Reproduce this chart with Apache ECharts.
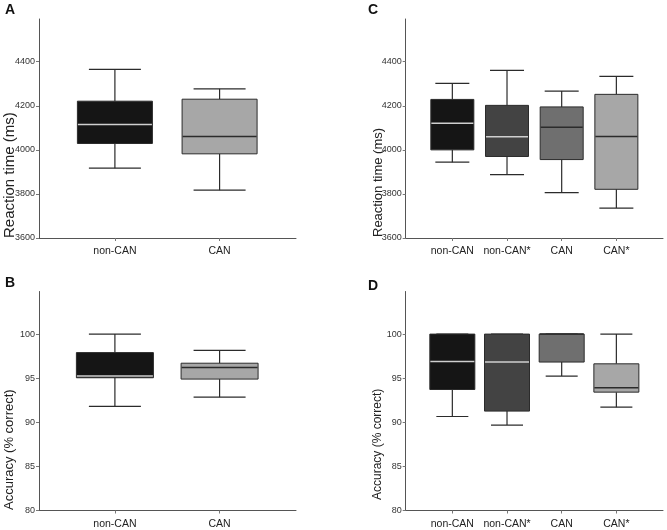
<!DOCTYPE html>
<html><head><meta charset="utf-8">
<script src="https://cdn.jsdelivr.net/npm/echarts@6/dist/echarts.min.js"></script>
<style>html,body{margin:0;padding:0;background:#fff}#c{width:667px;height:530px}</style>
</head><body><div id="c"></div>
<script>
// categories
const catsTwo = ['non-CAN', 'CAN'];
const catsFour = ['non-CAN', 'non-CAN*', 'CAN', 'CAN*'];
// five-number summaries per category: [min, Q1, median, Q3, max]
const rtTwo = [[3917, 4029, 4115, 4221, 4365], [3817, 3982, 4061, 4230, 4277]];
const accTwo = [[91.8, 95.05, 95.25, 97.9, 100], [92.85, 94.9, 96.2, 96.7, 98.15]];
const rtFour = [[3944, 4000, 4121, 4229, 4302], [3888, 3970, 4059, 4202, 4361], [3806, 3956, 4103, 4195, 4267], [3736, 3821, 4061, 4252, 4334]];
const accFour = [[90.66, 93.72, 96.89, 100, 100], [89.68, 91.27, 96.83, 100, 100], [95.24, 96.83, 100, 100, 100], [91.72, 93.42, 93.91, 96.63, 100]];
// tick labels
const rtTicks = [3600, 3800, 4000, 4200, 4400];
const accTicks = [80, 85, 90, 95, 100];

// styles
const FONT = 'Liberation Sans, Arial, sans-serif';
const fillTwo = ['#151515', '#a7a7a7'];
const fillFour = ['#151515', '#434343', '#6f6f6f', '#a7a7a7'];
const medTwo = ['#cfcfcf', '#2b2b2b'];
const medFour = ['#cfcfcf', '#cfcfcf', '#2b2b2b', '#2b2b2b'];

const panels = [
  {letter: 'A', lx: 5, ly: 3, cats: catsTwo, data: rtTwo, ticks: rtTicks, yMin: 3600, yMax: 4594,
   grid: {left: 39, top: 19, width: 257, height: 219}, xMin: 0.275, xMax: 2.73, boxW: 75, capW: 52,
   fills: fillTwo, meds: medTwo, title: 'Reaction time (ms)', tSize: 15, tx: 9.5, ty: 238},
  {letter: 'B', lx: 5, ly: 276, cats: catsTwo, data: accTwo, ticks: accTicks, yMin: 80, yMax: 104.83,
   grid: {left: 39, top: 291.5, width: 257, height: 219}, xMin: 0.275, xMax: 2.73, boxW: 77, capW: 52,
   fills: fillTwo, meds: medTwo, title: 'Accuracy (% correct)', tSize: 13, tx: 9.5, ty: 510},
  {letter: 'C', lx: 368, ly: 3, cats: catsFour, data: rtFour, ticks: rtTicks, yMin: 3600, yMax: 4594,
   grid: {left: 405.7, top: 19, width: 257.3, height: 219}, xMin: 0.147, xMax: 4.853, boxW: 43, capW: 34,
   fills: fillFour, meds: medFour, title: 'Reaction time (ms)', tSize: 13, tx: 378, ty: 237},
  {letter: 'D', lx: 368, ly: 279, cats: catsFour, data: accFour, ticks: accTicks, yMin: 80, yMax: 104.83,
   grid: {left: 405.7, top: 291.5, width: 257.3, height: 219}, xMin: 0.147, xMax: 4.853, boxW: 45, capW: 32,
   fills: fillFour, meds: medFour, title: 'Accuracy (% correct)', tSize: 12, tx: 378, ty: 500}
];

function makeRender(p) {
  return function (params, api) {
    const i = params.dataIndex;
    const x = api.value(0);
    const c = k => api.coord([x, api.value(k)]);
    const lo = c(1), q1 = c(2), md = c(3), q3 = c(4), hi = c(5);
    const cx = lo[0], hb = p.boxW / 2, hc = p.capW / 2;
    const ls = {stroke: '#2b2b2b', lineWidth: 1.2};
    return {type: 'group', children: [
      {type: 'line', shape: {x1: cx, y1: lo[1], x2: cx, y2: q1[1]}, style: ls},
      {type: 'line', shape: {x1: cx, y1: q3[1], x2: cx, y2: hi[1]}, style: ls},
      {type: 'line', shape: {x1: cx - hc, y1: lo[1], x2: cx + hc, y2: lo[1]}, style: ls},
      {type: 'line', shape: {x1: cx - hc, y1: hi[1], x2: cx + hc, y2: hi[1]}, style: ls},
      {type: 'rect', shape: {x: cx - hb, y: q3[1], width: p.boxW, height: q1[1] - q3[1]},
       style: {fill: p.fills[i], stroke: '#2b2b2b', lineWidth: 1}},
      {type: 'line', shape: {x1: cx - hb + 0.5, y1: md[1], x2: cx + hb - 0.5, y2: md[1]},
       style: {stroke: p.meds[i], lineWidth: 1.5}}
    ]};
  };
}

const option = {animation: false, grid: [], xAxis: [], yAxis: [], series: [], graphic: []};
panels.forEach((p, k) => {
  option.grid.push(Object.assign({containLabel: false}, p.grid));
  const xPos = p.cats.map((_, i) => i + 1);
  option.xAxis.push({
    type: 'value', gridIndex: k, min: p.xMin, max: p.xMax,
    axisLine: {show: true, lineStyle: {color: '#555', width: 1}},
    axisTick: {show: true, length: 3, lineStyle: {color: '#777'}, customValues: xPos},
    axisLabel: {customValues: xPos, margin: 8, fontSize: 10.5, color: '#222', fontFamily: FONT,
      formatter: v => p.cats[Math.round(v) - 1] || ''},
    splitLine: {show: false}
  });
  option.yAxis.push({
    type: 'value', gridIndex: k, min: p.yMin, max: p.yMax,
    axisLine: {show: true, lineStyle: {color: '#555', width: 1}},
    axisTick: {show: true, length: 3, lineStyle: {color: '#777'}, customValues: p.ticks},
    axisLabel: {customValues: p.ticks, margin: 4, fontSize: 9, color: '#333', fontFamily: FONT,
      formatter: v => String(v)},
    splitLine: {show: false}
  });
  option.series.push({
    type: 'custom', xAxisIndex: k, yAxisIndex: k,
    data: p.data.map((d, i) => [i + 1].concat(d)),
    encode: {x: 0, y: [1, 2, 3, 4, 5]},
    renderItem: makeRender(p)
  });
  option.graphic.push({
    type: 'text', x: p.lx, y: p.ly,
    style: {text: p.letter, font: 'bold 14px ' + FONT, fill: '#111', textVerticalAlign: 'top', verticalAlign: 'top'}
  });
  option.graphic.push({
    type: 'text', x: p.tx, y: p.ty, rotation: Math.PI / 2,
    style: {text: p.title, font: p.tSize + 'px ' + FONT, fill: '#222',
      textAlign: 'left', align: 'left', textVerticalAlign: 'middle', verticalAlign: 'middle'}
  });
});

const chart = echarts.init(document.getElementById('c'), null, {renderer: 'canvas'});
chart.setOption(option);
</script>
</body></html>
